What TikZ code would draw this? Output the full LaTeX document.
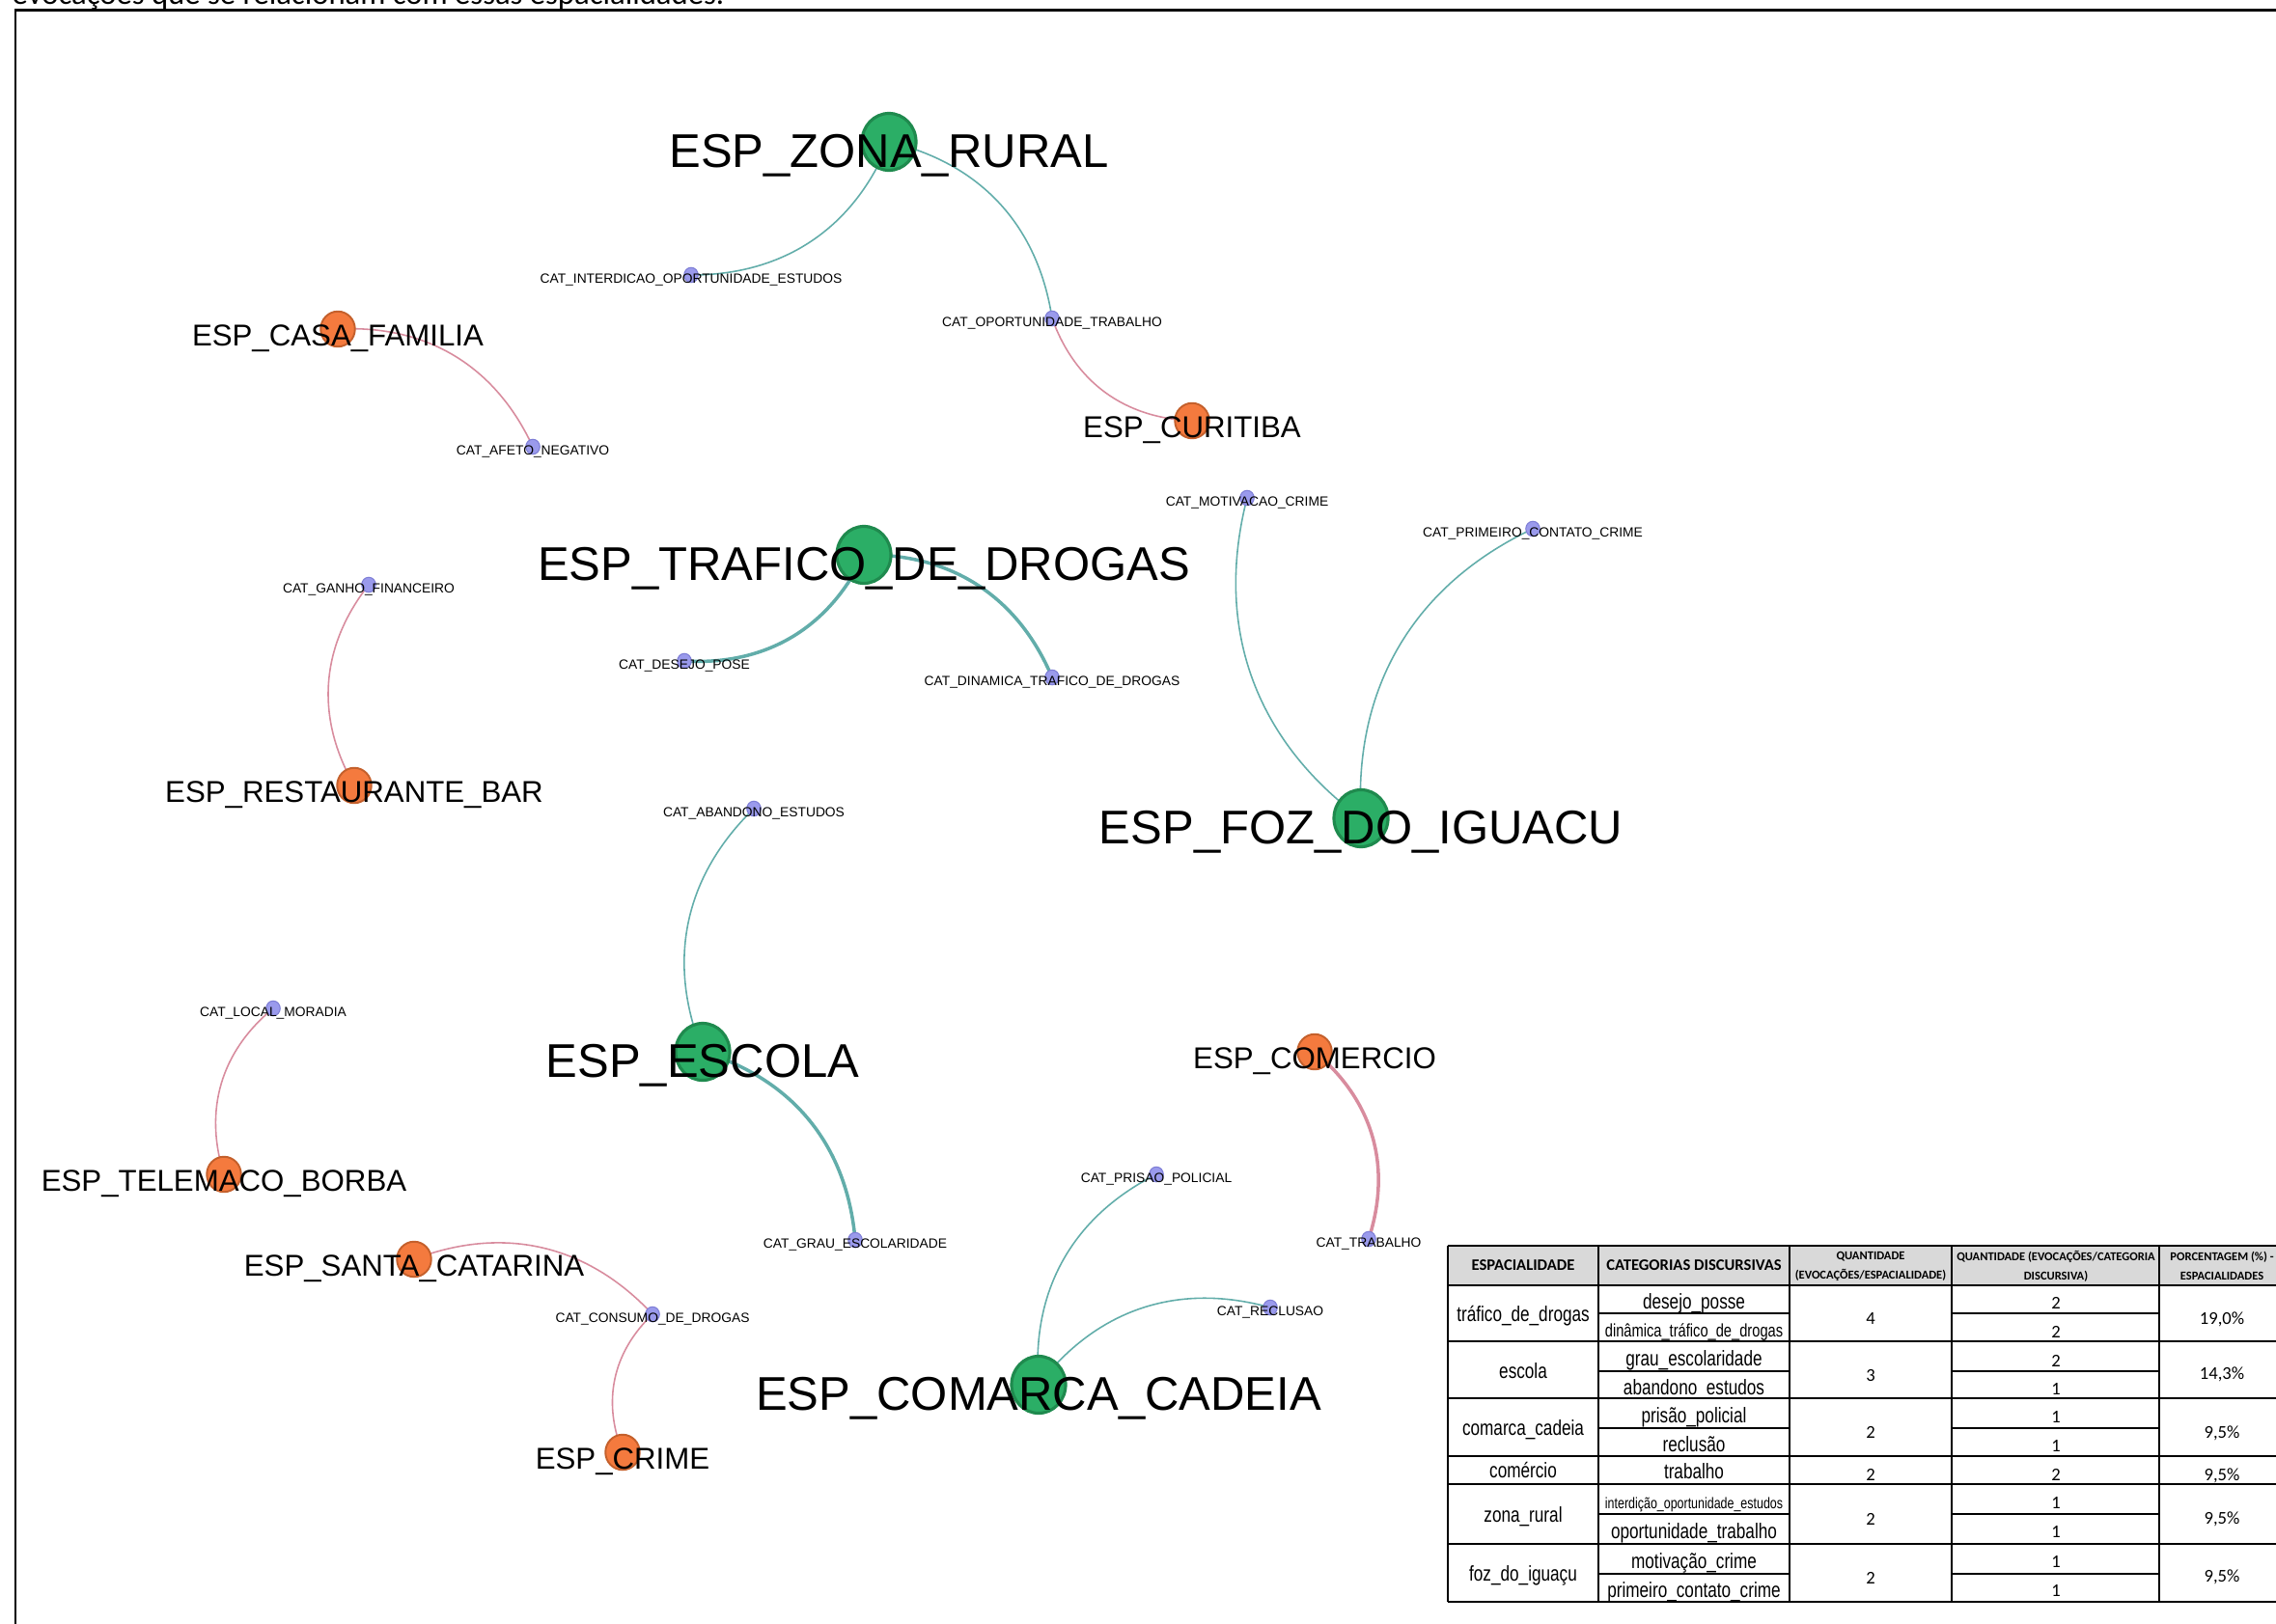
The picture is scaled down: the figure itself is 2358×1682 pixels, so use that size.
\documentclass[tikz,border=0pt]{standalone}
\usepackage{fontspec}
\setmainfont{Liberation Sans}
\newfontfamily\narrowfont[FakeStretch=0.78]{Liberation Sans}
\newfontfamily\calib{Carlito}
\usetikzlibrary{shapes.geometric,backgrounds}

\definecolor{greenF}{HTML}{2BAE66}
\definecolor{greenB}{HTML}{1F8A4E}
\definecolor{orangeF}{HTML}{F47A3E}
\definecolor{orangeB}{HTML}{C4602C}
\definecolor{violetF}{HTML}{9A9AEC}
\definecolor{violetB}{HTML}{7E7ED6}
\definecolor{tealE}{HTML}{62ADAA}
\definecolor{pinkE}{HTML}{D88C9E}
\definecolor{headG}{HTML}{D9D9D9}

\newcommand\lblbig{\fontsize{13.94}{15}\selectfont}
\newcommand\lblmid{\fontsize{8.88}{10}\selectfont}
\newcommand\lblcat{\fontsize{3.93}{4.5}\selectfont}

\begin{document}
\begin{tikzpicture}[x=0.01cm, y=-0.01cm,
  espg/.style={ellipse, draw=greenB, fill=greenF, line width=0.9pt,
    minimum width=0.56cm, minimum height=0.59cm, inner sep=0pt},
  espo/.style={ellipse, draw=orangeB, fill=orangeF, line width=0.55pt,
    minimum width=0.355cm, minimum height=0.365cm, inner sep=0pt},
  catn/.style={ellipse, draw=violetB, fill=violetF, line width=0.3pt,
    minimum width=0.145cm, minimum height=0.155cm, inner sep=0pt},
  biglbl/.style={anchor=base, inner sep=0pt, font=\lblbig},
  midlbl/.style={anchor=base, inner sep=0pt, font=\lblmid},
  catlbl/.style={anchor=base, inner sep=0pt, font=\lblcat},
  tedge/.style={draw=tealE, line width=0.45pt, bend left=34},
  tedgew/.style={draw=tealE, line width=1.0pt, bend left=34},
  pedge/.style={draw=pinkE, line width=0.45pt, bend left=34},
  pedgew/.style={draw=pinkE, line width=1.0pt, bend left=34},
  tline/.style={line width=0.8pt, black},
  cellt/.style={inner sep=0pt, font=\narrowfont\fontsize{6.26}{7}\selectfont,
    text height=0.72em, text depth=0.21em},
  celln/.style={inner sep=0pt, font=\calib\fontsize{5.3}{6}\selectfont,
    text height=0.63em, text depth=0pt},
  hdr/.style={inner sep=0pt, align=center, font=\calib\bfseries\fontsize{4.72}{5.5}\selectfont},
  hdrs/.style={inner sep=0pt, align=center, font=\calib\bfseries\fontsize{3.56}{5.69}\selectfont}
]
\useasboundingbox (0,0) rectangle (2358,1682);
\clip (0,0) rectangle (2358,1682);

% running caption line (cut by the page top) and frame
\node[anchor=base west, inner sep=0pt, font=\calib\fontsize{9.3}{10}\selectfont] (caption)
  at (12,4.5) {evocações que se relacionam com essas espacialidades.};
\draw[line width=0.85pt] (16,1760) |- (2440,10.5);

% spatial nodes (ESP)
\node[espg] (zr) at (921,147) {};
\node[espg] (tr) at (895,575) {};
\node[espg] (fz) at (1410,848) {};
\node[espg] (es) at (728,1090) {};
\node[espg] (cc) at (1076,1435) {};
\node[espo] (cf) at (350,341) {};
\node[espo] (cu) at (1235,436) {};
\node[espo] (rb) at (367,814) {};
\node[espo] (tb) at (232,1217) {};
\node[espo] (sc) at (429,1305) {};
\node[espo] (cr) at (645,1505) {};
\node[espo] (co) at (1362,1090) {};

% category nodes (CAT)
\node[catn] (k1) at (716,285) {};
\node[catn] (k2) at (1090,330) {};
\node[catn] (k3) at (552,463) {};
\node[catn] (k4) at (382,606) {};
\node[catn] (k5) at (709,685) {};
\node[catn] (k6) at (1090,702) {};
\node[catn] (k7) at (1292,516) {};
\node[catn] (k8) at (1588,548) {};
\node[catn] (k9) at (781,838) {};
\node[catn] (k10) at (283,1045) {};
\node[catn] (k11) at (886,1285) {};
\node[catn] (k12) at (1198,1217) {};
\node[catn] (k13) at (1316,1355) {};
\node[catn] (k14) at (1418,1284) {};
\node[catn] (k15) at (676,1362) {};

% curved edges, centre to centre, beneath the discs
\begin{scope}[on background layer]
\draw[tedge] (zr.center) to (k1.center);
\draw[tedge] (zr.center) to (k2.center);
\draw[tedge] (fz.center) to (k7.center);
\draw[tedge] (fz.center) to (k8.center);
\draw[tedge] (es.center) to (k9.center);
\draw[tedge] (cc.center) to (k12.center);
\draw[tedge] (cc.center) to (k13.center);
\draw[tedgew] (tr.center) to (k5.center);
\draw[tedgew] (tr.center) to (k6.center);
\draw[tedgew] (es.center) to (k11.center);
\draw[pedge] (cu.center) to (k2.center);
\draw[pedge] (cf.center) to (k3.center);
\draw[pedge] (rb.center) to (k4.center);
\draw[pedge] (tb.center) to (k10.center);
\draw[pedge] (sc.center) to (k15.center);
\draw[pedge] (cr.center) to (k15.center);
\draw[pedgew] (co.center) to (k14.center);
\end{scope}

% labels
\node[biglbl] (zrt) at (921,173) {ESP\_ZONA\_RURAL};
\node[biglbl] (trt) at (895,601) {ESP\_TRAFICO\_DE\_DROGAS};
\node[biglbl] (fzt) at (1410,874) {ESP\_FOZ\_DO\_IGUACU};
\node[biglbl] (est) at (728,1116) {ESP\_ESCOLA};
\node[biglbl] (cct) at (1076,1461) {ESP\_COMARCA\_CADEIA};
\node[midlbl] (cft) at (350,358) {ESP\_CASA\_FAMILIA};
\node[midlbl] (cut) at (1235,453) {ESP\_CURITIBA};
\node[midlbl] (rbt) at (367,831) {ESP\_RESTAURANTE\_BAR};
\node[midlbl] (tbt) at (232,1234) {ESP\_TELEMACO\_BORBA};
\node[midlbl] (sct) at (429,1322) {ESP\_SANTA\_CATARINA};
\node[midlbl] (crt) at (645,1522) {ESP\_CRIME};
\node[midlbl] (cot) at (1362,1107) {ESP\_COMERCIO};
\node[catlbl] (k1t) at (716,293) {CAT\_INTERDICAO\_OPORTUNIDADE\_ESTUDOS};
\node[catlbl] (k2t) at (1090,338) {CAT\_OPORTUNIDADE\_TRABALHO};
\node[catlbl] (k3t) at (552,471) {CAT\_AFETO\_NEGATIVO};
\node[catlbl] (k4t) at (382,614) {CAT\_GANHO\_FINANCEIRO};
\node[catlbl] (k5t) at (709,693) {CAT\_DESEJO\_POSE};
\node[catlbl] (k6t) at (1090,710) {CAT\_DINAMICA\_TRAFICO\_DE\_DROGAS};
\node[catlbl] (k7t) at (1292,524) {CAT\_MOTIVACAO\_CRIME};
\node[catlbl] (k8t) at (1588,556) {CAT\_PRIMEIRO\_CONTATO\_CRIME};
\node[catlbl] (k9t) at (781,846) {CAT\_ABANDONO\_ESTUDOS};
\node[catlbl] (k10t) at (283,1053) {CAT\_LOCAL\_MORADIA};
\node[catlbl] (k11t) at (886,1293) {CAT\_GRAU\_ESCOLARIDADE};
\node[catlbl] (k12t) at (1198,1225) {CAT\_PRISAO\_POLICIAL};
\node[catlbl] (k13t) at (1316,1363) {CAT\_RECLUSAO};
\node[catlbl] (k14t) at (1418,1292) {CAT\_TRABALHO};
\node[catlbl] (k15t) at (676,1370) {CAT\_CONSUMO\_DE\_DROGAS};

% summary table: grid
\fill[headG] (1500,1291) rectangle (2380,1332);
\foreach \y in {1291,1332,1390,1449,1509,1538,1600,1660}
  \draw[tline] (1500,\y) -- (2380,\y);
\foreach \x in {1500,1656,1854,2022,2237}
  \draw[tline] (\x,1291) -- (\x,1660);
\foreach \y in {1361,1421,1480,1569,1631} {
  \draw[tline] (1656,\y) -- (1854,\y);
  \draw[tline] (2022,\y) -- (2237,\y);
}

% table header
\node[hdr] (th1) at (1578,1311) {ESPACIALIDADE};
\node[hdr] (th2) at (1755,1311) {CATEGORIAS DISCURSIVAS};
\node[hdrs] (th3) at (1938,1312) {QUANTIDADE\\(EVOCAÇÕES/ESPACIALIDADE)};
\node[hdrs] (th4) at (2130,1312) {QUANTIDADE (EVOCAÇÕES/CATEGORIA\\DISCURSIVA)};
\node[hdrs] (th5) at (2302,1312) {PORCENTAGEM (\%) -\\ESPACIALIDADES};

% table body: spatialities
\node[cellt] (a1) at (1578,1361) {tráfico\_de\_drogas};
\node[cellt] (a2) at (1578,1420) {escola};
\node[cellt] (a3) at (1578,1479) {comarca\_cadeia};
\node[cellt] (a4) at (1578,1523) {comércio};
\node[cellt] (a5) at (1578,1569) {zona\_rural};
\node[cellt] (a6) at (1578,1630) {foz\_do\_iguaçu};

% table body: discursive categories
\node[cellt] (b1) at (1755,1348) {desejo\_posse};
\node[cellt, font=\narrowfont\fontsize{5.35}{6}\selectfont] (b2) at (1755,1377) {dinâmica\_tráfico\_de\_drogas};
\node[cellt] (b3) at (1755,1407) {grau\_escolaridade};
\node[cellt] (b4) at (1755,1437) {abandono\_estudos};
\node[cellt] (b5) at (1755,1466) {prisão\_policial};
\node[cellt] (b6) at (1755,1496) {reclusão};
\node[cellt] (b7) at (1755,1524) {trabalho};
\node[cellt, font=\narrowfont\fontsize{4.54}{5}\selectfont] (b8) at (1755,1555) {interdição\_oportunidade\_estudos};
\node[cellt] (b9) at (1755,1586) {oportunidade\_trabalho};
\node[cellt] (b10) at (1755,1617) {motivação\_crime};
\node[cellt] (b11) at (1755,1647) {primeiro\_contato\_crime};

% table body: counts per spatiality
\node[celln] (c1) at (1938,1361) {4};
\node[celln] (c2) at (1938,1420) {3};
\node[celln] (c3) at (1938,1479) {2};
\node[celln] (c4) at (1938,1523) {2};
\node[celln] (c5) at (1938,1569) {2};
\node[celln] (c6) at (1938,1630) {2};

% table body: counts per category
\node[celln] (d1) at (2130,1345) {2};
\node[celln] (d2) at (2130,1375) {2};
\node[celln] (d3) at (2130,1405) {2};
\node[celln] (d4) at (2130,1434) {1};
\node[celln] (d5) at (2130,1463) {1};
\node[celln] (d6) at (2130,1493) {1};
\node[celln] (d7) at (2130,1523) {2};
\node[celln] (d8) at (2130,1552) {1};
\node[celln] (d9) at (2130,1582) {1};
\node[celln] (d10) at (2130,1613) {1};
\node[celln] (d11) at (2130,1643) {1};

% table body: percentages
\node[celln] (e1) at (2302,1361) {19,0\%};
\node[celln] (e2) at (2302,1418) {14,3\%};
\node[celln] (e3) at (2302,1479) {9,5\%};
\node[celln] (e4) at (2302,1523) {9,5\%};
\node[celln] (e5) at (2302,1568) {9,5\%};
\node[celln] (e6) at (2302,1628) {9,5\%};
\end{tikzpicture}
\end{document}
